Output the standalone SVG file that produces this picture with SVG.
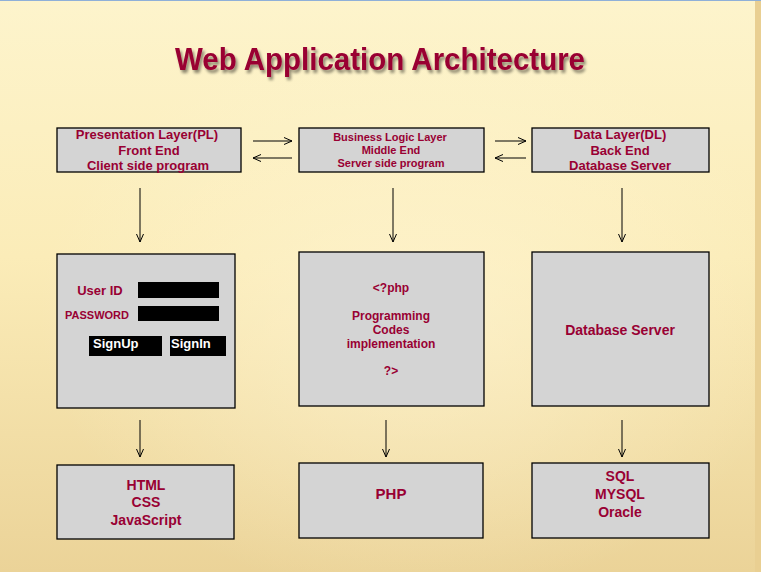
<svg xmlns="http://www.w3.org/2000/svg" width="761" height="572" viewBox="0 0 761 572">
<defs>
<linearGradient id="bg" x1="0" y1="0" x2="0" y2="1">
<stop offset="0" stop-color="#fdf4cc"/>
<stop offset="0.45" stop-color="#fbecb8"/>
<stop offset="1" stop-color="#ebd398"/>
</linearGradient>
<radialGradient id="glow" cx="0.55" cy="0.55" r="0.5">
<stop offset="0" stop-color="#fff6d6" stop-opacity="0.6"/>
<stop offset="1" stop-color="#fff6d6" stop-opacity="0"/>
</radialGradient>
<filter id="sh" x="-5%" y="-20%" width="110%" height="150%">
<feGaussianBlur in="SourceAlpha" stdDeviation="1.5"/>
<feOffset dx="2" dy="3" result="b"/>
<feComponentTransfer><feFuncA type="linear" slope="0.45"/></feComponentTransfer>
<feMerge><feMergeNode/><feMergeNode in="SourceGraphic"/></feMerge>
</filter>
<marker id="ah" markerWidth="10" markerHeight="10" refX="9" refY="5" orient="auto" markerUnits="userSpaceOnUse">
<path d="M1,1.5 L9,5 L1,8.5" fill="none" stroke="#000" stroke-width="1"/>
</marker>
</defs>
<style>
.box{fill:#d4d4d4;stroke:#000;stroke-width:1.3}
.t{font-family:"Liberation Sans",Arial,sans-serif;fill:#990033;font-weight:bold;text-anchor:middle}
.c{stroke:#000;stroke-width:1;fill:none;marker-end:url(#ah)}
.blk{fill:#000}
.w{font-family:"Liberation Sans",Arial,sans-serif;fill:#fff;font-weight:bold;font-size:13px}
</style>
<rect x="0" y="0" width="761" height="572" fill="url(#bg)"/>
<rect x="0" y="0" width="761" height="572" fill="url(#glow)"/>
<rect x="755" y="0" width="6" height="572" fill="#e9cf92"/>
<line x1="0" y1="0.5" x2="761" y2="0.5" stroke="#8fb0d8" stroke-width="1"/>

<text x="380" y="70" class="t" font-size="32" textLength="410" lengthAdjust="spacingAndGlyphs" filter="url(#sh)">Web Application Architecture</text>

<g id="connectors">
<line class="c" x1="253" y1="141" x2="292" y2="141"/>
<line class="c" x1="292" y1="158" x2="253" y2="158"/>
<line class="c" x1="495" y1="141" x2="526" y2="141"/>
<line class="c" x1="526" y1="158" x2="495" y2="158"/>
<line class="c" x1="140" y1="188" x2="140" y2="242"/>
<line class="c" x1="393" y1="188" x2="393" y2="242"/>
<line class="c" x1="622" y1="188" x2="622" y2="242"/>
<line class="c" x1="140" y1="420" x2="140" y2="457"/>
<line class="c" x1="386" y1="420" x2="386" y2="457"/>
<line class="c" x1="622" y1="420" x2="622" y2="457"/>
</g>

<g id="pl">
<rect class="box" x="57" y="128" width="184" height="44"/>
<text class="t" font-size="13" x="147" y="139">Presentation Layer(PL)</text>
<text class="t" font-size="13" x="149" y="155">Front End</text>
<text class="t" font-size="13" x="148" y="170">Client side program</text>
</g>
<g id="bll">
<rect class="box" x="299" y="128" width="185" height="44"/>
<text class="t" font-size="11" x="390" y="141">Business Logic Layer</text>
<text class="t" font-size="11" x="391" y="154">Middle End</text>
<text class="t" font-size="11" x="391" y="167">Server side program</text>
</g>
<g id="dl">
<rect class="box" x="532" y="128" width="177" height="44"/>
<text class="t" font-size="13" x="620" y="139">Data Layer(DL)</text>
<text class="t" font-size="13" x="620" y="155">Back End</text>
<text class="t" font-size="13" x="620" y="170">Database Server</text>
</g>

<g id="login">
<rect class="box" x="57" y="254" width="178" height="154"/>
<text class="t" font-size="13" x="100" y="295">User ID</text>
<rect class="blk" x="138" y="282" width="81" height="16"/>
<text class="t" font-size="11" x="97" y="319">PASSWORD</text>
<rect class="blk" x="138" y="306" width="81" height="15"/>
<rect class="blk" x="89" y="336" width="73" height="20"/>
<text class="w" x="93" y="348">SignUp</text>
<rect class="blk" x="170" y="336" width="56" height="20"/>
<text class="w" x="171" y="348">SignIn</text>
</g>
<g id="code">
<rect class="box" x="299" y="252" width="185" height="154"/>
<text class="t" font-size="12" x="391" y="292">&lt;?php</text>
<text class="t" font-size="12" x="391" y="320">Programming</text>
<text class="t" font-size="12" x="391" y="334">Codes</text>
<text class="t" font-size="12" x="391" y="348">implementation</text>
<text class="t" font-size="12" x="391" y="375">?&gt;</text>
</g>
<g id="dbserver">
<rect class="box" x="532" y="252" width="177" height="154"/>
<text class="t" font-size="14" x="620" y="335">Database Server</text>
</g>

<g id="frontend-tech">
<rect class="box" x="57" y="465" width="177" height="74"/>
<text class="t" font-size="14" x="146" y="490">HTML</text>
<text class="t" font-size="14" x="146" y="507">CSS</text>
<text class="t" font-size="14" x="146" y="525">JavaScript</text>
</g>
<g id="php">
<rect class="box" x="299" y="463" width="184" height="75"/>
<text class="t" font-size="15" x="391" y="499">PHP</text>
</g>
<g id="db-tech">
<rect class="box" x="532" y="463" width="177" height="75"/>
<text class="t" font-size="14" x="620" y="481">SQL</text>
<text class="t" font-size="14" x="620" y="499">MYSQL</text>
<text class="t" font-size="14" x="620" y="517">Oracle</text>
</g>
</svg>
